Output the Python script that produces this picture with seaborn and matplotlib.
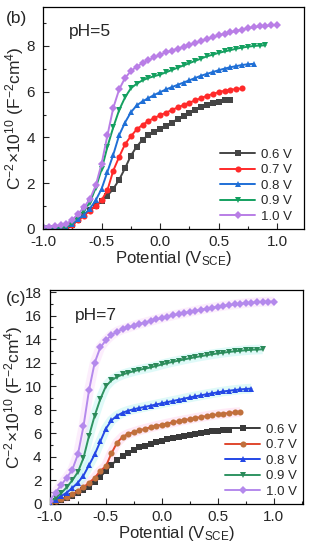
import numpy as np
import pandas as pd
import matplotlib
matplotlib.use("Agg")
import matplotlib.pyplot as plt
from matplotlib.ticker import MultipleLocator
import seaborn as sns

# ========================
# DATA
# ========================
potential = [-1.0, -0.95, -0.9, -0.85, -0.8, -0.75, -0.7, -0.65, -0.6, -0.55,
             -0.5, -0.45, -0.4, -0.35, -0.3, -0.25, -0.2, -0.15, -0.1, -0.05,
             0.0, 0.05, 0.1, 0.15, 0.2, 0.25, 0.3, 0.35, 0.4, 0.45,
             0.5, 0.55, 0.6, 0.65, 0.7, 0.75, 0.8, 0.85, 0.9, 0.95, 1.0]

labels = ["0.6 V", "0.7 V", "0.8 V", "0.9 V", "1.0 V"]

# pH = 5
ph5_06 = [0.0, 0.0, 0.01, 0.03, 0.07, 0.18, 0.38, 0.60, 0.82, 1.00,
          1.20, 1.45, 1.75, 2.15, 2.65, 3.20, 3.60, 3.90, 4.10, 4.22,
          4.35, 4.50, 4.65, 4.80, 4.95, 5.08, 5.20, 5.32, 5.42, 5.50,
          5.57, 5.62, 5.65]
ph5_07 = [0.02, 0.02, 0.03, 0.04, 0.08, 0.18, 0.38, 0.58, 0.80, 1.00,
          1.25, 1.70, 2.55, 3.15, 3.70, 4.05, 4.35, 4.55, 4.72, 4.85,
          4.97, 5.08, 5.20, 5.31, 5.42, 5.52, 5.62, 5.72, 5.82, 5.90,
          5.98, 6.04, 6.08, 6.12, 6.14]
ph5_08 = [0.03, 0.03, 0.03, 0.05, 0.08, 0.20, 0.42, 0.62, 0.88, 1.25,
          1.75, 2.50, 3.25, 4.10, 4.65, 5.10, 5.40, 5.58, 5.72, 5.86,
          5.98, 6.10, 6.20, 6.30, 6.40, 6.50, 6.60, 6.70, 6.78, 6.86,
          6.94, 7.01, 7.07, 7.12, 7.17, 7.20, 7.22]
ph5_09 = [0.05, 0.05, 0.05, 0.06, 0.10, 0.25, 0.55, 0.80, 1.15, 1.80,
          2.60, 3.60, 4.45, 5.20, 5.75, 6.15, 6.35, 6.50, 6.60, 6.68,
          6.75, 6.85, 6.95, 7.05, 7.15, 7.25, 7.35, 7.45, 7.55, 7.62,
          7.70, 7.76, 7.82, 7.88, 7.93, 7.97, 8.00, 8.02, 8.03]
ph5_10 = [0.10, 0.10, 0.12, 0.15, 0.22, 0.40, 0.65, 0.95, 1.30, 1.90,
          2.85, 4.10, 5.30, 6.10, 6.60, 6.90, 7.10, 7.25, 7.38, 7.50,
          7.62, 7.72, 7.80, 7.88, 7.96, 8.05, 8.13, 8.22, 8.30, 8.38,
          8.46, 8.54, 8.60, 8.66, 8.72, 8.78, 8.82, 8.86, 8.88, 8.90, 8.92]

# pH = 7
ph7_06 = [0.08, 0.20, 0.35, 0.50, 0.70, 0.90, 1.15, 1.45, 1.85, 2.30,
          2.80, 3.30, 3.75, 4.05, 4.35, 4.60, 4.80, 4.95, 5.10, 5.22,
          5.35, 5.47, 5.58, 5.68, 5.78, 5.87, 5.96, 6.04, 6.10, 6.16,
          6.21, 6.26, 6.30]
ph7_07 = [0.08, 0.20, 0.37, 0.55, 0.80, 1.10, 1.40, 1.80, 2.20, 2.80,
          3.20, 4.30, 5.20, 5.70, 5.95, 6.10, 6.25, 6.38, 6.50, 6.62,
          6.72, 6.83, 6.93, 7.03, 7.12, 7.20, 7.30, 7.38, 7.46, 7.54,
          7.60, 7.67, 7.72, 7.77, 7.80]
ph7_08 = [0.10, 0.35, 0.65, 0.95, 1.35, 1.80, 2.40, 3.30, 4.20, 5.30,
          6.40, 7.10, 7.50, 7.75, 7.92, 8.05, 8.15, 8.25, 8.35, 8.45,
          8.55, 8.65, 8.75, 8.85, 8.95, 9.05, 9.14, 9.23, 9.32, 9.40,
          9.48, 9.56, 9.62, 9.68, 9.73, 9.77, 9.80]
ph7_09 = [0.10, 0.50, 0.90, 1.40, 2.00, 2.70, 3.90, 5.80, 7.50, 8.90,
          10.0, 10.5, 10.8, 11.0, 11.15, 11.28, 11.4, 11.5, 11.6, 11.72,
          11.85, 11.97, 12.08, 12.18, 12.28, 12.38, 12.47, 12.56, 12.64, 12.72,
          12.79, 12.86, 12.92, 12.97, 13.02, 13.06, 13.10, 13.12, 13.14]
ph7_10 = [0.25, 0.95, 1.60, 2.20, 2.90, 4.20, 6.60, 9.70, 12.0, 13.3,
          13.9, 14.35, 14.65, 14.85, 15.0, 15.15, 15.3, 15.42, 15.55, 15.68,
          15.8, 15.92, 16.03, 16.13, 16.23, 16.33, 16.42, 16.52, 16.60, 16.68,
          16.76, 16.84, 16.90, 16.96, 17.02, 17.07, 17.11, 17.15, 17.18, 17.20, 17.20]

# ========================
# STYLE
# ========================
sns.set_style("ticks")
plt.rcParams["font.family"] = ["Liberation Sans", "DejaVu Sans"]
plt.rcParams["mathtext.fontset"] = "custom"
plt.rcParams["mathtext.rm"] = "Liberation Sans"
plt.rcParams["mathtext.it"] = "Liberation Sans"

markers = ["s", "o", "^", "v", "D"]
colors5 = ["#454545", "#ff2a2a", "#1f6fd6", "#14a060", "#b97ee6"]
colors7 = ["#3a3a3a", "#e0472e", "#2448e6", "#2f9462", "#b489ec"]
face7 = ["#3a3a3a", "#c0703c", "#2448e6", "#2b8a5a", "#b489ec"]
glow7 = [None, "#ffd9f0", "#c6f6f4", "#c6f6f4", "#fbe0fb"]


def make_df(series):
    frames = []
    for lab, vals in zip(labels, series):
        frames.append(pd.DataFrame({"potential": potential[:len(vals)],
                                    "c": vals, "bias": lab}))
    return pd.concat(frames, ignore_index=True)


df5 = make_df([ph5_06, ph5_07, ph5_08, ph5_09, ph5_10])
df7 = make_df([ph7_06, ph7_07, ph7_08, ph7_09, ph7_10])

fig = plt.figure(figsize=(3.1, 5.5), dpi=100)
ax1 = fig.add_axes([0.139, 0.584, 0.842, 0.403])
ax2 = fig.add_axes([0.161, 0.084, 0.816, 0.389])

ylab = r"C$^{-2}$×10$^{10}$ (F$^{-2}$cm$^{4}$)"
xlab = r"Potential (V$_{\mathrm{SCE}}$)"

# ========================
# PANEL (b) pH=5
# ========================
for i, lab in enumerate(labels):
    d = df5[df5["bias"] == lab]
    sns.lineplot(data=d, x="potential", y="c", ax=ax1, color=colors5[i],
                 marker=markers[i], markersize=4.4 if markers[i] != "D" else 4.0,
                 markeredgewidth=0, linewidth=1.4, label=lab)

ax1.set_xlim(-1.0, 1.23)
ax1.set_ylim(0, 9.7)
ax1.yaxis.set_major_locator(MultipleLocator(2))
ax1.yaxis.set_minor_locator(MultipleLocator(1))
ax1.text(0.10, 0.87, "pH=5", transform=ax1.transAxes, fontsize=12.5)
fig.text(0.02, 0.958, "(b)", fontsize=12.5)

# ========================
# PANEL (c) pH=7
# ========================
for i, lab in enumerate(labels):
    d = df7[df7["bias"] == lab]
    if glow7[i] is not None:
        ax2.plot(d["potential"], d["c"], color=glow7[i], linewidth=7,
                 alpha=0.55, zorder=1, solid_capstyle="butt")
for i, lab in enumerate(labels):
    d = df7[df7["bias"] == lab]
    sns.lineplot(data=d, x="potential", y="c", ax=ax2, color=colors7[i],
                 marker=markers[i], markersize=4.4 if markers[i] != "D" else 4.0,
                 markerfacecolor=face7[i], markeredgewidth=0, linewidth=1.4,
                 label=lab, zorder=3)

ax2.set_xlim(-1.0, 1.26)
ax2.set_ylim(0, 18.2)
ax2.yaxis.set_major_locator(MultipleLocator(2))
ax2.yaxis.set_minor_locator(MultipleLocator(1))
ax2.text(0.10, 0.86, "pH=7", transform=ax2.transAxes, fontsize=12.5)
fig.text(0.018, 0.45, "(c)", fontsize=12.5)

for ax in (ax1, ax2):
    ax.xaxis.set_major_locator(MultipleLocator(0.5))
    ax.xaxis.set_minor_locator(MultipleLocator(0.25))
    ax.set_xticks([-1.0, -0.5, 0.0, 0.5, 1.0])
    ax.set_xticklabels(["-1.0", "-0.5", "0.0", "0.5", "1.0"])
    ax.tick_params(which="major", direction="in", length=4, width=0.8,
                   labelsize=11)
    ax.tick_params(axis="x", which="major", pad=4.5)
    ax.tick_params(axis="y", which="major", pad=6)
    ax.tick_params(which="minor", direction="in", length=2.5, width=0.8)
    ax.set_xlabel(xlab, fontsize=12, labelpad=0)
    ax.set_ylabel(ylab, fontsize=12.5, labelpad=0)
    for s in ax.spines.values():
        s.set_linewidth(0.9)
        s.set_color("black")

ax1.legend(loc="lower right", bbox_to_anchor=(0.99, -0.015), frameon=False,
           fontsize=9.5, handlelength=2.7, handletextpad=0.45,
           labelspacing=0.25, borderaxespad=0.3)
ax2.legend(loc="lower right", bbox_to_anchor=(1.015, -0.015), frameon=False,
           fontsize=9.5, handlelength=2.7, handletextpad=0.45,
           labelspacing=0.25, borderaxespad=0.3)

fig.savefig("out.png", dpi=100)
